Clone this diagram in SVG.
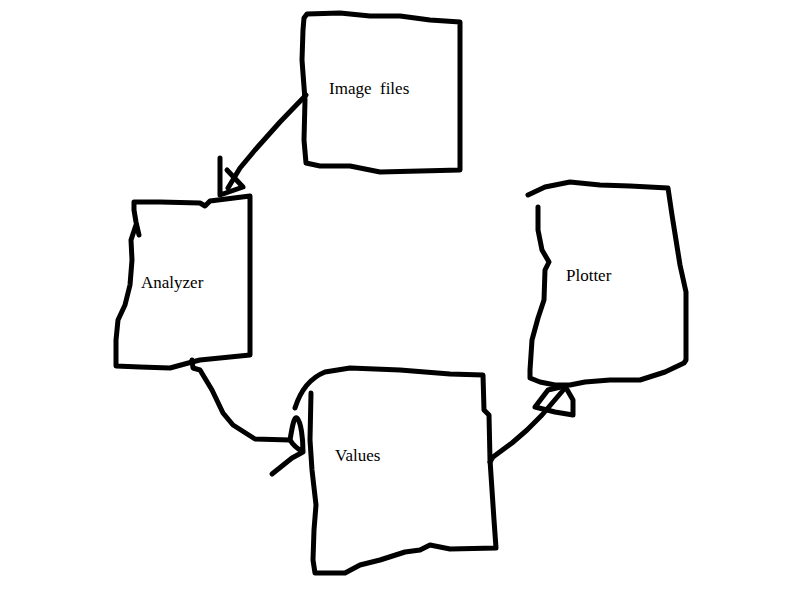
<svg xmlns="http://www.w3.org/2000/svg" width="800" height="600" viewBox="0 0 800 600">
<style>
.s{fill:none;stroke:#000;stroke-width:5;stroke-linecap:round;stroke-linejoin:round}
.t{font-family:"Liberation Serif","DejaVu Serif",serif;font-size:17px;fill:#000;white-space:pre}
</style>
<rect width="800" height="600" fill="#fff"/>
<g id="image-files">
<path class="s" d="M304,18 L307,14 L340,13 L370,16 L400,16 L430,20 L460,22 L460,60 L460,110 L460,170 L420,171 L380,172 L350,166 L320,166 L306,163 L304,140 L305,100 L302,60 L303,30 Z"/>
<text class="t" x="329" y="94">Image  files</text>
</g>
<g id="analyzer">
<path class="s" d="M139,235 L136,222 L134,210 L134,202 L160,202 L200,203 L205,206 L210,201 L250,196 L250,250 L250,300 L250,355 L230,357 L200,360 L192,362 L170,368 L140,367 L116,366 L116,340 L118,320 L125,305 L130,285 L132,260 L131,240 L136,225"/>
<text class="t" x="141" y="288">Analyzer</text>
</g>
<g id="values">
<path class="s" d="M295,408 C300,392 310,378 325,372 L350,368 L400,370 L450,374 L483,375 L484,410 L489,415 L490,460 L492,490 L494,520 L496,548 L450,549 L430,545 L420,550 L405,552 L380,560 L360,565 L345,573 L315,573 L313,560 L314,530 L316,505 L312,470 L310,440 L311,393"/>
<text class="t" x="335" y="461">Values</text>
</g>
<g id="plotter">
<path class="s" d="M528,195 L545,187 L570,182 L600,185 L630,186 L668,188 L672,215 L676,240 L680,265 L686,292 L686,320 L686,360 L684,363 L665,372 L640,380 L610,380 L585,382 L570,385 L555,385 L540,382 L530,378 L530,370 L532,340 L538,318 L544,300 L545,270 L549,262 L542,250 L538,230 L538,207"/>
<text class="t" x="566" y="281">Plotter</text>
</g>
<g id="connectors">
<path class="s" d="M306,95 L280,122 L255,150 L240,168 L228,188"/>
<path class="s" d="M220,158 L220,195 L243,187 L227,170"/>
<path class="s" d="M192,360 L193,368 L200,370 L212,390 L223,413 L233,425 L255,439 L290,440"/>
<path class="s" d="M290,440 C292,428 294,416 297,418 C301,422 303,438 303,452 L292,458 L272,474 M303,452 C296,448 293,445 290,440"/>
<path class="s" d="M490,462 L493,457 L512,443 L527,430 L542,415 L565,388"/>
<path class="s" d="M535,407 L548,390 L565,386 L573,400 L573,415 L555,412 Z"/>
</g>
</svg>
